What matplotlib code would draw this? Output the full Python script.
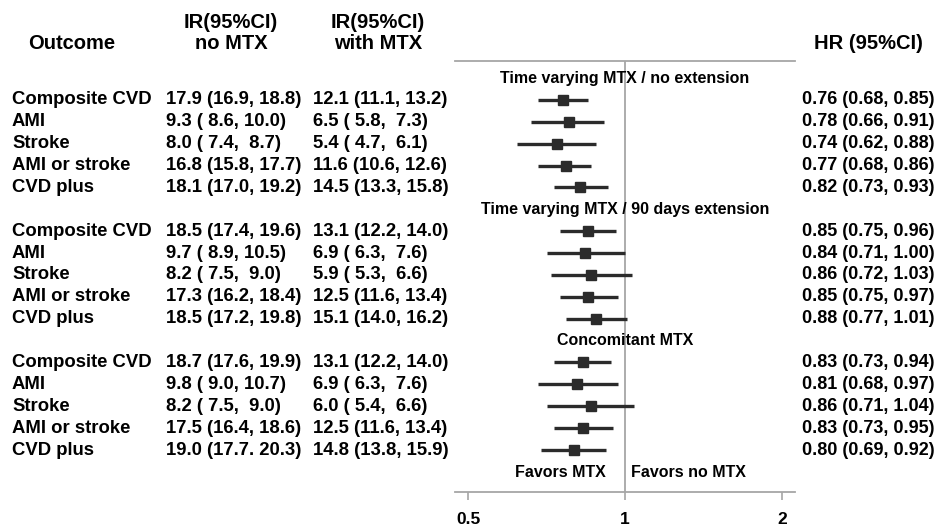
import numpy as np
import matplotlib
matplotlib.use('Agg')
import matplotlib.pyplot as plt
from matplotlib.transforms import blended_transform_factory

plt.rcParams['font.family'] = ['Liberation Sans', 'DejaVu Sans']
plt.rcParams['font.weight'] = 'bold'

# ---------------- data ----------------
groups = ['Time varying MTX / no extension',
          'Time varying MTX / 90 days extension',
          'Concomitant MTX']
outcomes = ['Composite CVD', 'AMI', 'Stroke', 'AMI or stroke', 'CVD plus']

ir_no = ['17.9 (16.9, 18.8)', '9.3 ( 8.6, 10.0)', '8.0 ( 7.4,  8.7)', '16.8 (15.8, 17.7)', '18.1 (17.0, 19.2)',
         '18.5 (17.4, 19.6)', '9.7 ( 8.9, 10.5)', '8.2 ( 7.5,  9.0)', '17.3 (16.2, 18.4)', '18.5 (17.2, 19.8)',
         '18.7 (17.6, 19.9)', '9.8 ( 9.0, 10.7)', '8.2 ( 7.5,  9.0)', '17.5 (16.4, 18.6)', '19.0 (17.7. 20.3)']
ir_with = ['12.1 (11.1, 13.2)', '6.5 ( 5.8,  7.3)', '5.4 ( 4.7,  6.1)', '11.6 (10.6, 12.6)', '14.5 (13.3, 15.8)',
           '13.1 (12.2, 14.0)', '6.9 ( 6.3,  7.6)', '5.9 ( 5.3,  6.6)', '12.5 (11.6, 13.4)', '15.1 (14.0, 16.2)',
           '13.1 (12.2, 14.0)', '6.9 ( 6.3,  7.6)', '6.0 ( 5.4,  6.6)', '12.5 (11.6, 13.4)', '14.8 (13.8, 15.9)']

hr = [0.76, 0.78, 0.74, 0.77, 0.82,
      0.85, 0.84, 0.86, 0.85, 0.88,
      0.83, 0.81, 0.86, 0.83, 0.80]
lo = [0.68, 0.66, 0.62, 0.68, 0.73,
      0.75, 0.71, 0.72, 0.75, 0.77,
      0.73, 0.68, 0.71, 0.73, 0.69]
hi = [0.85, 0.91, 0.88, 0.86, 0.93,
      0.96, 1.00, 1.03, 0.97, 1.01,
      0.94, 0.97, 1.04, 0.95, 0.92]

xticks = [0.5, 1, 2]

# ---------------- layout ----------------
fig = plt.figure(figsize=(9.38, 5.29), dpi=100)
ax = fig.add_axes([0.4851, 0.0699, 0.3624, 0.8148])

grey = '#a6a6a6'
dark = '#2b2b2b'

# row positions: each group = header row + 5 outcome rows
ypos = []
head_y = []
for g in range(len(groups)):
    head_y.append(g * 6)
    ypos += [g * 6 + k + 1 for k in range(len(outcomes))]
ypos = np.array(ypos)

ax.hlines(ypos, lo, hi, color=dark, lw=2.4)
ax.plot(hr, ypos, 's', color=dark, ms=7.5)
ax.axvline(1, color=grey, lw=1.3, zorder=0)

ax.set_xscale('log')
ax.set_xlim(0.472, 2.12)
ax.set_ylim(18.92, -0.78)
ax.set_yticks([])
ax.set_xticks(xticks)
ax.set_xticklabels(['0.5', '1', '2'], fontsize=12.5, fontweight='bold')
ax.xaxis.set_minor_locator(matplotlib.ticker.NullLocator())
ax.tick_params(axis='x', length=5.8, width=1.2, color=grey, pad=8.5)
for s in ['left', 'right']:
    ax.spines[s].set_visible(False)
for s in ['top', 'bottom']:
    ax.spines[s].set_color(grey)
    ax.spines[s].set_linewidth(1.3)

for g, name in enumerate(groups):
    ax.text(1, head_y[g], name, ha='center', va='center', fontsize=11.5, fontweight='bold')

ax.annotate('Favors MTX', (1, 18.05), xytext=(-13.5, 0), textcoords='offset points',
            ha='right', va='center', fontsize=11.5, fontweight='bold')
ax.annotate('Favors no MTX', (1, 18.05), xytext=(4.5, 0), textcoords='offset points',
            ha='left', va='center', fontsize=11.5, fontweight='bold')

# table columns
tr = blended_transform_factory(fig.transFigure, ax.transData)
fs = 13.3
for i, y in enumerate(ypos):
    ax.text(0.0128, y, outcomes[i % len(outcomes)], transform=tr, ha='left', va='center', fontsize=fs)
    ax.text(0.177, y, ir_no[i], transform=tr, ha='left', va='center', fontsize=fs)
    ax.text(0.3337, y, ir_with[i], transform=tr, ha='left', va='center', fontsize=fs)
    ax.text(0.855, y, '%.2f (%.2f, %.2f)' % (hr[i], lo[i], hi[i]), transform=tr,
            ha='left', va='center', fontsize=13)

hfs = 14.5
ax.text(0.0768, -1.6, 'Outcome', transform=tr, ha='center', va='center', fontsize=hfs)
ax.text(0.2463, -2.55, 'IR(95%CI)', transform=tr, ha='center', va='center', fontsize=hfs)
ax.text(0.2463, -1.6, 'no MTX', transform=tr, ha='center', va='center', fontsize=hfs)
ax.text(0.403, -2.55, 'IR(95%CI)', transform=tr, ha='center', va='center', fontsize=hfs)
ax.text(0.403, -1.6, 'with MTX', transform=tr, ha='center', va='center', fontsize=hfs)
ax.text(0.926, -1.6, 'HR (95%CI)', transform=tr, ha='center', va='center', fontsize=hfs)

fig.savefig('out.png', dpi=100)
